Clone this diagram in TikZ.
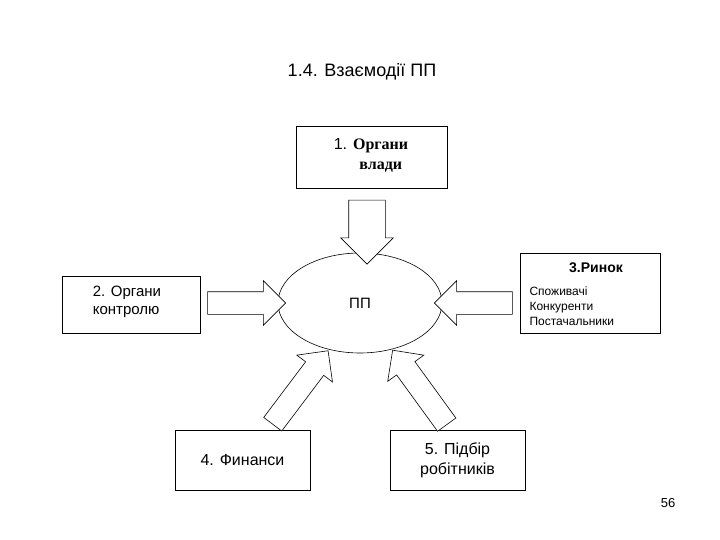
\documentclass[tikz,border=0pt]{standalone}
\usepackage{fontspec}
\setmainfont{Liberation Sans}
\newfontfamily\serf{Liberation Serif}
\usetikzlibrary{shapes.arrows,shapes.geometric}
\begin{document}
\begin{tikzpicture}[x=1pt,y=-1pt,
  box/.style={draw,line width=0.6pt,fill=white,inner sep=0pt},
  barrow/.style={single arrow,draw,line width=0.6pt,fill=white,inner xsep=0pt,inner ysep=11pt,single arrow head extend=11pt,anchor=center,single arrow head indent=0pt}]
\useasboundingbox (0,0) rectangle (720,540);
\node[font=\fontsize{18}{21}\selectfont] (title) at (362,72) {1.4. Взаємодії ПП};
\node[box,minimum width=151pt,minimum height=62pt] (b1) at (371.5,157) {};
\node[align=left,font=\fontsize{16}{20}\selectfont] (t1) at (371,155) {1. {\serf\bfseries Органи}\\\hspace*{1.6em}{\serf\bfseries влади}};
\node[ellipse,draw,line width=0.6pt,minimum width=164pt,minimum height=100pt,font=\fontsize{15}{18}\selectfont] (pp) at (360,303) {ПП};
\node[box,minimum width=138pt,minimum height=57pt] (b2) at (131,304.5) {};
\node[align=left,font=\fontsize{15}{18}\selectfont] (t2) at (127,302) {2. Органи\\контролю};
\node[box,minimum width=140pt,minimum height=80pt] (b3) at (590,293) {};
\node[font=\fontsize{14}{16}\selectfont\bfseries] (t3a) at (596,268) {3.Ринок};
\node[align=left,anchor=west,font=\fontsize{12}{15}\selectfont] (t3b) at (526,306) {Споживачі\\Конкуренти\\Постачальники};
\node[box,minimum width=135pt,minimum height=60pt,font=\fontsize{16}{19}\selectfont] (b4) at (242.5,460) {4. Финанси};
\node[box,minimum width=135pt,minimum height=60pt,align=center,font=\fontsize{16}{20}\selectfont] (b5) at (457.5,460) {5. Підбір\\робітників};
\node[barrow,minimum height=64pt,inner ysep=18pt,single arrow head extend=8pt,rotate=-90] (a1) at (367,223) {};
\node[barrow,minimum height=78pt] (a2) at (241,303) {};
\node[barrow,minimum height=78pt,rotate=180] (a3) at (479,303) {};
\node[barrow,minimum height=92pt,rotate=53] (a4) at (297,392) {};
\node[barrow,minimum height=92pt,rotate=126] (a5) at (423,392) {};
\node[font=\fontsize{13}{15}\selectfont] (pg) at (668,503) {56};
\end{tikzpicture}
\end{document}
